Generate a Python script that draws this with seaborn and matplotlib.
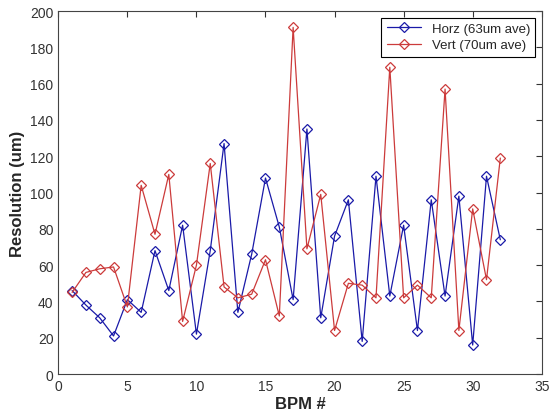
import numpy as np
import pandas as pd
import matplotlib
matplotlib.use("Agg")
import matplotlib.pyplot as plt
import seaborn as sns

# BPM index and measured resolution (um)
bpm = list(range(1, 33))
horz = [46, 38, 31, 21, 41, 34, 68, 46, 82, 22, 68, 127, 34, 66, 108, 81,
        41, 135, 31, 76, 96, 18, 109, 43, 82, 24, 96, 43, 98, 16, 109, 74]
vert = [45, 56, 58, 59, 37, 104, 77, 110, 29, 60, 116, 48, 42, 44, 63, 32,
        191, 69, 99, 24, 50, 49, 42, 169, 42, 49, 42, 157, 24, 91, 52, 119]
labels = ["Horz (63um ave)", "Vert (70um ave)"]
colors = ["#1a1aa8", "#cc3b3b"]

sns.set_style("white")
plt.rcParams['font.family'] = ['Liberation Sans', 'DejaVu Sans']

fig = plt.figure(figsize=(5.5, 4.14), dpi=100)
ax = fig.add_axes([0.106, 0.094, 0.879, 0.877])

for vals, lab, col in zip([horz, vert], labels, colors):
    df = pd.DataFrame({"bpm": bpm, "res": vals})
    sns.lineplot(data=df, x="bpm", y="res", ax=ax, color=col, label=lab,
                 marker="D", markersize=5.5, markerfacecolor="none",
                 markeredgecolor=col, markeredgewidth=0.9, linewidth=0.9)

ax.set_xlim(0, 35)
ax.set_ylim(0, 200)
ax.set_xticks(np.arange(0, 36, 5))
ax.set_yticks(np.arange(0, 201, 20))
ax.tick_params(direction="in", top=True, right=True, length=4,
               labelsize=10, colors="#333333")
for s in ax.spines.values():
    s.set_color("#444444")
    s.set_linewidth(0.8)

ax.set_xlabel("BPM #", fontsize=12, fontweight="bold", labelpad=2)
ax.set_ylabel("Resolution (um)", fontsize=12, fontweight="bold", labelpad=4)

leg = ax.legend(loc="upper right", fancybox=False, edgecolor="black",
                fontsize=9.5, handlelength=2.6, borderpad=0.4,
                labelspacing=0.3, framealpha=1)
leg.get_frame().set_linewidth(0.8)

fig.savefig("out.png", dpi=100, facecolor="white")
